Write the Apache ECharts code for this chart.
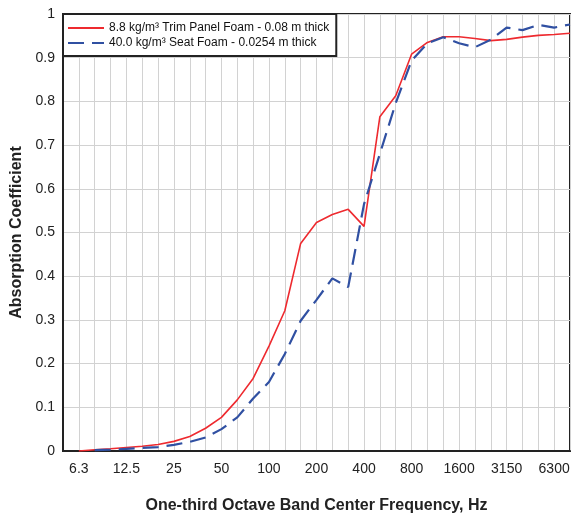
<!DOCTYPE html>
<html>
<head>
<meta charset="utf-8">
<script src="https://cdn.jsdelivr.net/npm/echarts@6/dist/echarts.min.js"></script>
<style>
html,body{margin:0;padding:0;background:#fff;}
#chart{width:572px;height:514px;}
</style>
</head>
<body>
<div id="chart"></div>
<script>
const categories = ['5','6.3','8','10','12.5','16','20','25','31.5','40','50','63','80','100','125','160','200','250','315','400','500','630','800','1000','1250','1600','2000','2500','3150','4000','5000','6300','8000'];
const labelledTicks = ['6.3','12.5','25','50','100','200','400','800','1600','3150','6300'];
const trimPanel = ['-',0.000,0.003,0.005,0.008,0.011,0.015,0.022,0.033,0.052,0.077,0.117,0.166,0.240,0.321,0.475,0.523,0.541,0.553,0.514,0.765,0.813,0.908,0.935,0.948,0.948,0.944,0.939,0.942,0.947,0.951,0.953,0.956];
const seatFoam = ['-','-',0.002,0.003,0.005,0.007,0.009,0.014,0.021,0.031,0.050,0.077,0.120,0.158,0.222,0.298,0.346,0.395,0.375,0.565,0.680,0.796,0.893,0.933,0.947,0.933,0.924,0.941,0.969,0.963,0.975,0.969,0.976];
const seriesNames = ['8.8 kg/m³ Trim Panel Foam - 0.08 m thick','40.0 kg/m³ Seat Foam - 0.0254 m thick'];

const chart = echarts.init(document.getElementById('chart'), null, {renderer:'canvas'});
chart.setOption({
  animation:false,
  backgroundColor:'#fff',
  textStyle:{fontFamily:'Liberation Sans, Arial, sans-serif'},
  grid:{left:63,right:2,top:14,bottom:63,containLabel:false,outerBoundsMode:'none',show:true,borderColor:'#222',borderWidth:2,backgroundColor:'transparent'},
  legend:{
    orient:'vertical',left:63,top:14,
    backgroundColor:'#fff',borderColor:'#222',borderWidth:2,
    padding:[8,7,7,4],itemGap:3,itemWidth:36,itemHeight:12,
    itemStyle:{opacity:0},
    textStyle:{fontSize:12,color:'#111',fontFamily:'Liberation Sans, Arial, sans-serif'},
    data:seriesNames
  },
  xAxis:{
    type:'category',data:categories,boundaryGap:false,
    name:'One-third Octave Band Center Frequency, Hz',nameLocation:'middle',nameGap:47,
    nameTextStyle:{fontSize:16,fontWeight:'bold',color:'#222'},
    axisLine:{show:true,lineStyle:{color:'#222',width:2}},
    axisTick:{show:false},
    axisLabel:{interval:function(i,v){return labelledTicks.indexOf(v)>=0;},fontSize:14,color:'#222',margin:11},
    splitLine:{show:true,interval:0,lineStyle:{color:'#d2d2d2',width:1}}
  },
  yAxis:{
    type:'value',min:0,max:1,interval:0.1,
    name:'Absorption Coefficient',nameLocation:'middle',nameGap:32,
    nameTextStyle:{fontSize:16,fontWeight:'bold',color:'#222'},
    axisLine:{show:true,lineStyle:{color:'#222',width:2}},
    axisTick:{show:false},
    axisLabel:{fontSize:14,color:'#222',margin:8,formatter:function(v){return String(Math.round(v*10)/10);}},
    splitLine:{show:true,lineStyle:{color:'#d2d2d2',width:1}}
  },
  series:[
    {name:seriesNames[0],type:'line',data:trimPanel,showSymbol:false,symbol:'none',
     lineStyle:{color:'#ee2a2f',width:1.6},itemStyle:{color:'#ee2a2f'}},
    {name:seriesNames[1],type:'line',data:seatFoam,showSymbol:false,symbol:'none',
     lineStyle:{color:'#3050a2',width:2.2,type:[16,8]},itemStyle:{color:'#3050a2'}}
  ]
});
</script>
</body>
</html>
